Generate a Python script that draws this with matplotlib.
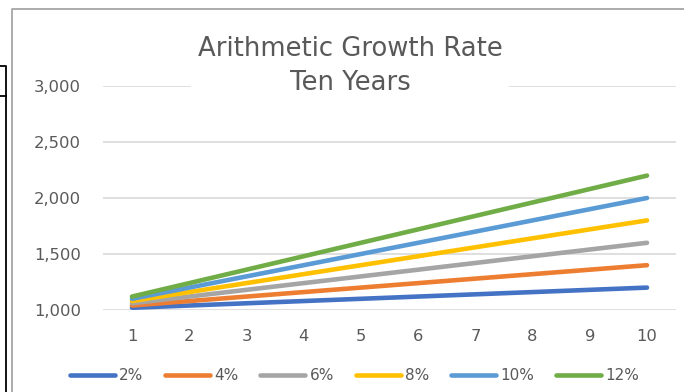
import matplotlib.pyplot as plt
from matplotlib.lines import Line2D

years = [1, 2, 3, 4, 5, 6, 7, 8, 9, 10]
rate_labels = ["2%", "4%", "6%", "8%", "10%", "12%"]
g2 = [1020, 1040, 1060, 1080, 1100, 1120, 1140, 1160, 1180, 1200]
g4 = [1040, 1080, 1120, 1160, 1200, 1240, 1280, 1320, 1360, 1400]
g6 = [1060, 1120, 1180, 1240, 1300, 1360, 1420, 1480, 1540, 1600]
g8 = [1080, 1160, 1240, 1320, 1400, 1480, 1560, 1640, 1720, 1800]
g10 = [1100, 1200, 1300, 1400, 1500, 1600, 1700, 1800, 1900, 2000]
g12 = [1120, 1240, 1360, 1480, 1600, 1720, 1840, 1960, 2080, 2200]
series = [g2, g4, g6, g8, g10, g12]
colors = ["#4472C4", "#ED7D31", "#A5A5A5", "#FFC000", "#5B9BD5", "#70AD47"]

W, H = 684, 392
fig = plt.figure(figsize=(W / 100, H / 100), dpi=100)
txt = "#595959"

# sheet bits around the chart (cell border + chart frame)
def px_line(x, y, color, lw):
    fig.add_artist(Line2D([v / W for v in x], [1 - v / H for v in y],
                          transform=fig.transFigure, color=color, lw=lw))

px_line([0, 6, 6], [66, 66, H], "black", 1.3)
px_line([0, 6], [96, 96], "black", 1.3)
px_line([12, 12, W], [H, 9, 9], "#a6a6a6", 1.3)

ax = fig.add_axes([103.4 / W, (H - 310) / H, 572.2 / W, 224 / H])
for s, c, lab in zip(series, colors, rate_labels):
    ax.plot(years, s, color=c, lw=3.3, solid_capstyle="round", label=lab)

ax.set_xlim(0.5, 10.5)
ax.set_ylim(1000, 3000)
ax.set_xticks(years)
ax.set_yticks([1000, 1500, 2000, 2500, 3000])
ax.set_yticklabels(["1,000", "1,500", "2,000", "2,500", "3,000"])
ax.grid(axis="y", color="#d9d9d9", lw=1.2)
ax.set_axisbelow(True)
for sp in ax.spines.values():
    sp.set_visible(False)
ax.tick_params(length=0, labelsize=11.8, colors=txt)
ax.tick_params(axis="x", pad=14)
ax.tick_params(axis="y", pad=16)

fig.text(350 / W, 1 - 66 / H, "Arithmetic Growth Rate\nTen Years", ha="center", va="center",
         fontsize=18.6, color=txt, linespacing=1.42,
         bbox=dict(facecolor="white", edgecolor="none", pad=5))

fig.legend(loc="center", bbox_to_anchor=(354.5 / W, 1 - 376 / H), ncol=6, frameon=False,
           fontsize=11, labelcolor=txt, handlelength=2.95, handletextpad=0.3,
           columnspacing=1.4)

fig.savefig("out.png", dpi=100)
